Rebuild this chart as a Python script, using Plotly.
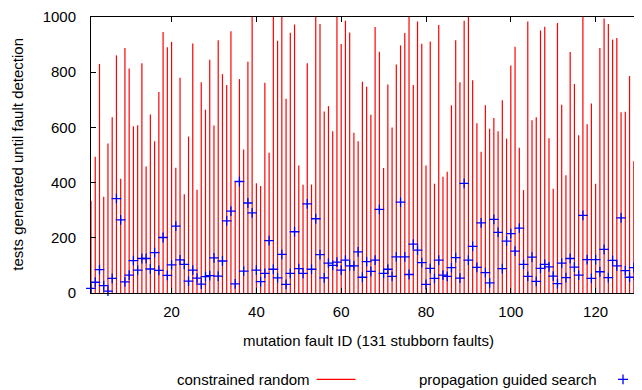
import plotly.graph_objects as go

# ---------------- data ----------------
fault_id = list(range(1, 132))

constrained_random = [
    334, 494, 830, 349, 542, 637, 861, 414, 888, 813,
    604, 608, 832, 458, 647, 550, 728, 946, 890, 910,
    454, 780, 358, 567, 904, 374, 764, 664, 845, 607,
    916, 793, 754, 948, 404, 775, 520, 838, 1000, 398,
    388, 762, 508, 1000, 914, 1000, 704, 943, 973, 462,
    392, 832, 393, 1000, 975, 658, 677, 586, 1000, 902,
    986, 944, 581, 550, 765, 747, 646, 964, 874, 453,
    755, 600, 828, 897, 942, 1000, 754, 984, 903, 462,
    911, 396, 971, 421, 439, 680, 916, 764, 986, 1000,
    771, 615, 512, 680, 595, 634, 586, 698, 559, 824,
    892, 526, 373, 984, 626, 637, 951, 965, 561, 378,
    978, 682, 427, 873, 757, 572, 1000, 611, 687, 396,
    888, 995, 975, 918, 924, 655, 657, 786, 477, 698,
    500,
]

propagation_guided = [
    17, 39, 85, 27, 7, 53, 342, 265, 40, 65,
    117, 83, 125, 125, 87, 146, 82, 201, 64, 102,
    242, 120, 104, 43, 83, 54, 32, 59, 63, 127,
    61, 116, 261, 297, 33, 404, 79, 326, 290, 83,
    41, 71, 190, 86, 55, 140, 31, 71, 222, 88,
    71, 323, 86, 269, 139, 55, 108, 100, 112, 83,
    119, 98, 98, 149, 57, 114, 78, 119, 303, 71,
    86, 60, 131, 329, 131, 67, 177, 155, 110, 31,
    89, 53, 119, 65, 60, 92, 128, 54, 397, 119,
    169, 93, 254, 74, 37, 267, 220, 88, 188, 215,
    152, 235, 104, 60, 130, 42, 89, 104, 95, 61,
    34, 108, 56, 125, 94, 65, 281, 121, 53, 121,
    77, 158, 56, 118, 98, 272, 81, 57, 92, 50,
    60,
]

x_ticks = [20, 40, 60, 80, 100, 120]
y_ticks = [0, 200, 400, 600, 800, 1000]

series_names = ["constrained random", "propagation guided search"]
x_title = "mutation fault ID (131 stubborn faults)"
y_title = "tests generated until fault detection"

# ---------------- layout geometry ----------------
# page body has an 8px margin, so the figure is offset by (8, 8)
OFF = 8
W, H = 642 - OFF, 390 - OFF
L, R, T, B = 83, 0, 7, 97
PW, PH = W - L - R, H - T - B
FONT = "Liberation Sans, Arial, Helvetica, sans-serif"
RED = "#ff0000"
BLUE = "#0000ff"


def px(xp):
    """window pixel x -> paper x"""
    return (xp - OFF - L) / PW


def py(yp):
    """window pixel y -> paper y"""
    return (H - B - (yp - OFF)) / PH


# impulses: vertical segments from 0 to each value
imp_x, imp_y = [], []
for f, v in zip(fault_id, constrained_random):
    imp_x += [f, f, None]
    imp_y += [0, v, None]

fig = go.Figure()
fig.add_trace(go.Scatter(
    x=imp_x, y=imp_y, mode="lines",
    line=dict(color=RED, width=1.2),
    name=series_names[0], showlegend=False, hoverinfo="skip",
))
fig.add_trace(go.Scatter(
    x=fault_id, y=propagation_guided, mode="markers",
    marker=dict(symbol="cross-thin", size=7, color=BLUE,
                line=dict(color=BLUE, width=1.3)),
    cliponaxis=False,
    name=series_names[1], showlegend=False,
))

axis_common = dict(
    showgrid=False, zeroline=False, showline=True,
    linecolor="black", linewidth=1, mirror="ticks",
    ticks="inside", ticklen=5, tickwidth=1, tickcolor="black",
    tickfont=dict(family=FONT, size=15, color="black"),
    ticklabeloverflow="allow",
)

fig.update_xaxes(range=[1, 130.7], tickmode="array", tickvals=x_ticks,
                 ticklabelstandoff=5, **axis_common)
fig.update_yaxes(range=[0, 1000], tickmode="array", tickvals=y_ticks,
                 ticklabelstandoff=11, **axis_common)

annotations = [
    dict(text=x_title, x=px(369), y=py(341), xref="paper", yref="paper",
         xanchor="center", yanchor="middle", showarrow=False,
         font=dict(family=FONT, size=15, color="black")),
    dict(text=y_title, x=px(16.5), y=py(153), xref="paper", yref="paper",
         xanchor="center", yanchor="middle", textangle=-90, showarrow=False,
         font=dict(family=FONT, size=15, color="black")),
    dict(text=series_names[0], x=px(312), y=py(380), xref="paper", yref="paper",
         xanchor="right", yanchor="middle", showarrow=False,
         font=dict(family=FONT, size=15, color="black")),
    dict(text=series_names[1], x=px(600), y=py(380), xref="paper", yref="paper",
         xanchor="right", yanchor="middle", showarrow=False,
         font=dict(family=FONT, size=15, color="black")),
]

shapes = [
    # legend sample: red line
    dict(type="line", xref="paper", yref="paper",
         x0=px(317), x1=px(356), y0=py(380), y1=py(380),
         line=dict(color=RED, width=1.2)),
    # legend sample: blue plus
    dict(type="line", xref="paper", yref="paper",
         x0=px(619), x1=px(629), y0=py(380), y1=py(380),
         line=dict(color=BLUE, width=1.3)),
    dict(type="line", xref="paper", yref="paper",
         x0=px(624), x1=px(624), y0=py(375), y1=py(385),
         line=dict(color=BLUE, width=1.3)),
]

fig.update_layout(
    width=W, height=H,
    margin=dict(l=L, r=R, t=T, b=B, pad=0),
    paper_bgcolor="white", plot_bgcolor="white",
    showlegend=False,
    annotations=annotations, shapes=shapes,
    font=dict(family=FONT, size=15, color="black"),
)

fig.write_html("out.html")
